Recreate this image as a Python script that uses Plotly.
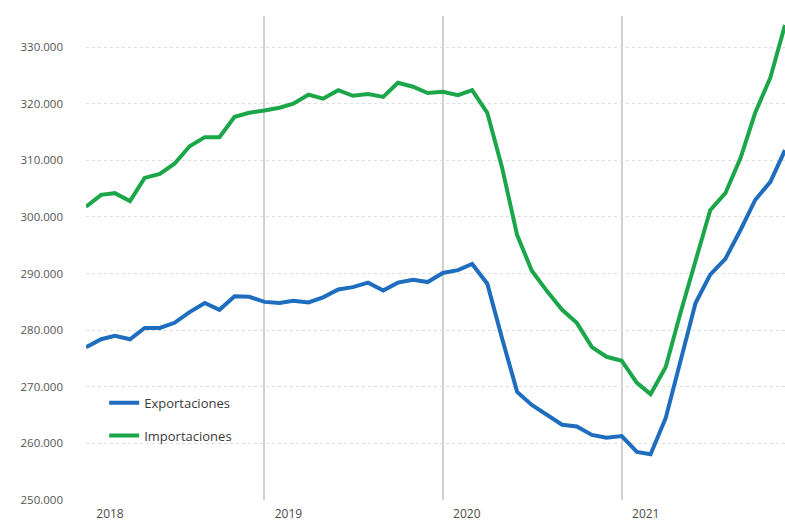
import pandas as pd
import plotly.graph_objs as go

months = pd.date_range("2018-01-01", periods=48, freq="MS")

exportaciones = [
    277.0, 278.4, 279.0, 278.4, 280.4, 280.4, 281.3, 283.2, 284.8, 283.6, 286.0, 285.9,
    285.0, 284.8, 285.2, 284.9, 285.8, 287.2, 287.6, 288.4, 287.0, 288.4, 288.9, 288.5,
    290.1, 290.6, 291.7, 288.2, 278.6, 269.1, 266.8, 265.0, 263.3, 263.0, 261.5, 261.0,
    261.3, 258.5, 258.1, 264.5, 274.7, 284.8, 289.8, 292.6, 297.7, 303.0, 306.2, 311.8,
]
importaciones = [
    301.8, 303.9, 304.2, 302.8, 306.9, 307.6, 309.4, 312.5, 314.1, 314.1, 317.7, 318.4,
    318.8, 319.3, 320.0, 321.6, 320.9, 322.4, 321.4, 321.7, 321.2, 323.7, 323.0, 321.9,
    322.1, 321.5, 322.4, 318.4, 308.8, 296.8, 290.5, 286.9, 283.6, 281.3, 277.0, 275.3,
    274.6, 270.7, 268.7, 273.5, 283.0, 292.4, 301.2, 304.2, 310.4, 318.4, 324.6, 333.9,
]
year_ticks = ["2018-01-01", "2019-01-01", "2020-01-01", "2021-01-01"]
year_labels = ["2018", "2019", "2020", "2021"]

series = [
    ("Exportaciones", exportaciones, "#1F6DBF"),
    ("Importaciones", importaciones, "#1BA64A"),
]

fig = go.Figure()
for name, values, color in series:
    fig.add_trace(go.Scatter(
        x=months,
        y=[v * 1000 for v in values],
        mode="lines",
        name=name,
        legendgroup=name,
        line=dict(color=color, width=4),
    ))

fig.update_layout(
    width=785, height=523,
    margin=dict(l=86, r=0, t=16, b=23),
    paper_bgcolor="white", plot_bgcolor="white",
    separators=",.",
    font=dict(family="Open Sans", size=12, color="#555555"),
    showlegend=True,
    legend=dict(
        x=0.026, y=0.232, xanchor="left", yanchor="top",
        bgcolor="rgba(0,0,0,0)",
        font=dict(size=13, color="#3A3A3A"),
        tracegroupgap=13,
        itemwidth=30,
    ),
    xaxis=dict(
        range=["2018-01-01", "2021-12-01"],
        tickvals=year_ticks, ticktext=year_labels,
        ticklabelshift=24, ticklabelstandoff=5,
        showgrid=True, gridcolor="#D0D0D0", gridwidth=1.5,
        zeroline=False, showline=False, ticks="",
        tickfont=dict(size=12, color="#4A4A4A"),
    ),
    yaxis=dict(
        range=[250000, 335500],
        tick0=250000, dtick=10000, tickformat=",d",
        showgrid=True, gridcolor="#DEDEDE", gridwidth=1, griddash="dot",
        zeroline=False, showline=False, ticks="",
        ticklabelstandoff=22,
        tickfont=dict(size=11.5),
    ),
)

# drop the default page margin so the figure sits at the window's corner
fig.write_html("out.html", config={"displayModeBar": False},
               post_script="document.body.style.margin='0';")
